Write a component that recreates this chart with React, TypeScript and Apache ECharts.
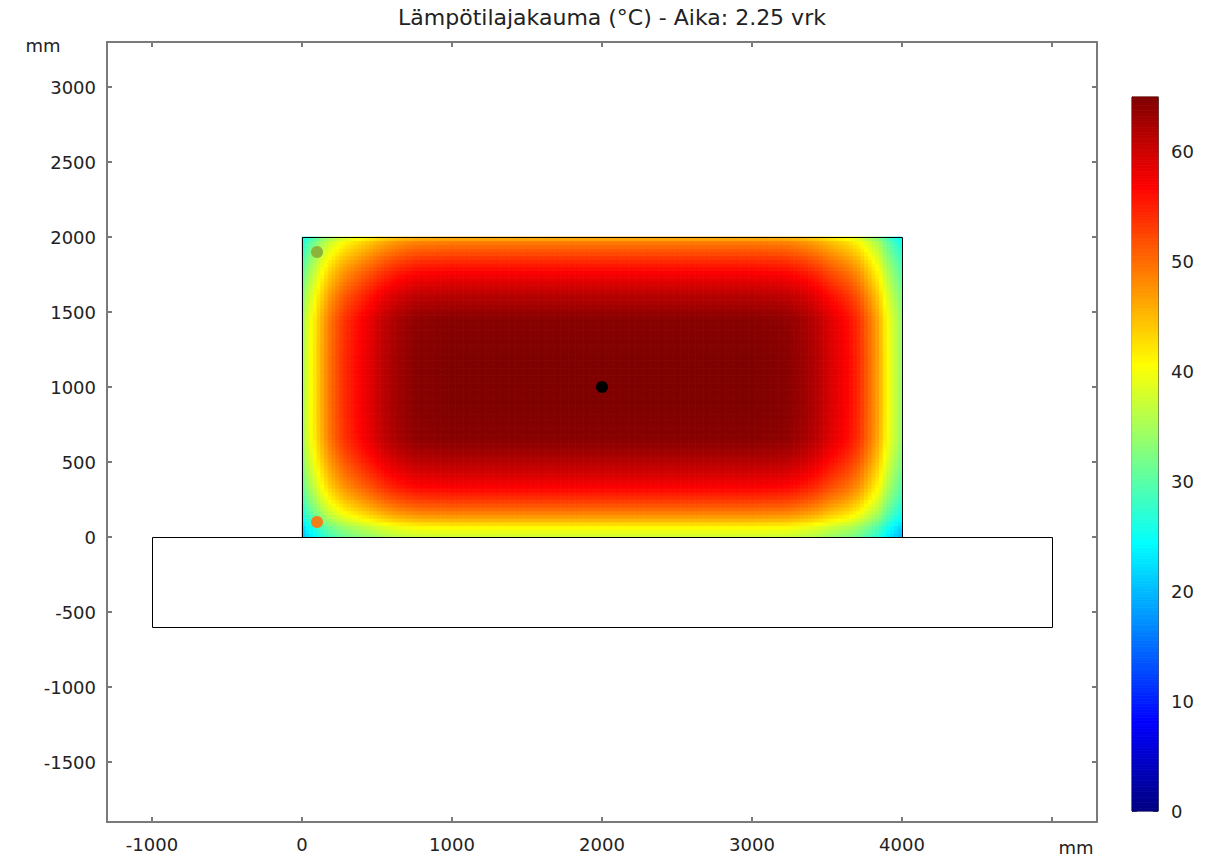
import React, { useEffect, useRef } from "react";
import * as echarts from "echarts";

const titleText = "Lämpötilajakauma (°C) - Aika: 2.25 vrk";
const unitLabel = "mm";

// Temperature (y = 1000 mm)
const profileXmm = [0, 15, 40, 73, 120, 193, 280, 387, 480, 560, 640, 770, 1000, 2000, 3000, 3230, 3360, 3440, 3520, 3633, 3720, 3787, 3850, 3900, 3960, 4000];
const profileXtemp = [33, 36, 39, 41, 45, 50, 54, 57, 59.5, 61.5, 63, 64.5, 65, 65, 65, 64.5, 63, 61.5, 59.5, 57, 54, 50, 46, 41, 37, 34];
// Temperature (x = 2000 mm)
const profileYmm = [0, 13, 67, 120, 180, 260, 333, 420, 500, 570, 660, 850, 1000, 1200, 1450, 1530, 1610, 1680, 1767, 1850, 1920, 1967, 2000];
const profileYtemp = [37, 38, 41, 46, 50, 54, 57, 59.5, 61.5, 63, 64.5, 65, 65, 65, 64.5, 63, 61.5, 59.5, 57, 54, 51, 49, 45];
const centreTemp = 65;

// Geometry [x0, y0, x1, y1] in mm
const slabRect = [0, 0, 4000, 2000];
const foundationRect = [-1000, -600, 5000, 0];

// Measurement points
const sensorX = [2000, 100, 100];
const sensorY = [1000, 1900, 100];
const sensorColors = ["#000000", "#8db33a", "#f07f1a"];

// Axes
const xTickValues = [-1000, 0, 1000, 2000, 3000, 4000, 5000];
const xLabelValues = [-1000, 0, 1000, 2000, 3000, 4000];
const yTickValues = [-1500, -1000, -500, 0, 500, 1000, 1500, 2000, 2500, 3000];
const colorTickValues = [0, 10, 20, 30, 40, 50, 60];
const colorMin = 0;
const colorMax = 65;
const jetColors = ["#000080", "#0000ff", "#0080ff", "#00ffff", "#80ff80", "#ffff00", "#ff8000", "#ff0000", "#800000"];

const FONT = "DejaVu Sans";

function interp(p: number, xs: number[], ys: number[]): number {
  if (p <= xs[0]) return ys[0];
  for (let i = 1; i < xs.length; i++) {
    if (p <= xs[i]) {
      const t = (p - xs[i - 1]) / (xs[i] - xs[i - 1]);
      return ys[i - 1] + t * (ys[i] - ys[i - 1]);
    }
  }
  return ys[ys.length - 1];
}

function buildCells() {
  const step = 25;
  const cells: number[][] = [];
  for (let x = slabRect[0]; x < slabRect[2]; x += step) {
    const tx = interp(x + step / 2, profileXmm, profileXtemp);
    for (let y = slabRect[1]; y < slabRect[3]; y += step) {
      const ty = interp(y + step / 2, profileYmm, profileYtemp);
      cells.push([x, y, x + step, y + step, (tx * ty) / centreTemp]);
    }
  }
  return cells;
}

function buildColorbar() {
  const step = 0.25;
  const out: number[][] = [];
  for (let v = colorMin; v < colorMax; v += step) {
    out.push([0, v, 1, v + step, v + step / 2]);
  }
  return out;
}

const rectItem = (params: any, api: any) => {
  const p0 = api.coord([api.value(0), api.value(1)]);
  const p1 = api.coord([api.value(2), api.value(3)]);
  const c = api.visual("color");
  return {
    type: "rect",
    shape: { x: p0[0], y: p1[1], width: p1[0] - p0[0], height: p0[1] - p1[1] },
    style: { fill: c, stroke: c, lineWidth: 0.8 },
    silent: true,
  };
};

const outlineItem = (params: any, api: any) => {
  const p0 = api.coord([api.value(0), api.value(1)]);
  const p1 = api.coord([api.value(2), api.value(3)]);
  return {
    type: "rect",
    shape: { x: Math.round(p0[0]) + 0.5, y: Math.round(p1[1]) + 0.5, width: Math.round(p1[0] - p0[0]), height: Math.round(p0[1] - p1[1]) },
    style: { fill: params.dataIndex === 1 ? "#ffffff" : "none", stroke: "#000000", lineWidth: 1 },
    silent: true,
  };
};

export default function App() {
  const ref = useRef<HTMLDivElement>(null);
  useEffect(() => {
    if (!ref.current) return;
    const chart = echarts.init(ref.current, null, { renderer: "svg" });
    const axisGrey = "#7a7a7a";
    const labelStyle = { color: "#222", fontFamily: FONT, fontSize: 18, formatter: (v: number) => String(v) };
    const mainX = (pos: "bottom" | "top", labels: boolean) => ({
      type: "value",
      gridIndex: 0,
      position: pos,
      min: -1300,
      max: 5300,
      axisLine: { show: true, onZero: false, lineStyle: { color: axisGrey, width: 2 } },
      axisTick: { show: true, inside: true, length: 5, lineStyle: { color: axisGrey, width: 2 }, customValues: xTickValues },
      axisLabel: { show: labels, margin: 13, ...labelStyle, customValues: xLabelValues },
      splitLine: { show: false },
    });
    const mainY = (pos: "left" | "right", labels: boolean) => ({
      type: "value",
      gridIndex: 0,
      position: pos,
      min: -1900,
      max: 3300,
      axisLine: { show: true, onZero: false, lineStyle: { color: axisGrey, width: 2 } },
      axisTick: { show: true, inside: true, length: 5, lineStyle: { color: axisGrey, width: 2 }, customValues: yTickValues },
      axisLabel: { show: labels, margin: 11, ...labelStyle, customValues: yTickValues },
      splitLine: { show: false },
    });
    const cbY = (pos: "left" | "right", labels: boolean) => ({
      type: "value",
      gridIndex: 1,
      position: pos,
      min: colorMin,
      max: colorMax,
      axisLine: { show: true, onZero: false, lineStyle: { color: "#555", width: 1 } },
      axisTick: { show: true, inside: true, length: 5, lineStyle: { color: "#111", width: 1.5 }, customValues: colorTickValues },
      axisLabel: { show: labels, margin: 13, ...labelStyle, customValues: colorTickValues },
      splitLine: { show: false },
    });
    chart.setOption({
      animation: false,
      backgroundColor: "#ffffff",
      grid: [
        { left: 107, top: 42, width: 990, height: 780, show: false },
        { left: 1132, top: 97, width: 26, height: 714, show: true, borderColor: "#555", borderWidth: 1 },
      ],
      xAxis: [
        mainX("bottom", true),
        mainX("top", false),
        { type: "value", gridIndex: 1, min: 0, max: 1, show: false },
      ],
      yAxis: [mainY("left", true), mainY("right", false), cbY("left", false), cbY("right", true)],
      visualMap: [
        { type: "continuous", show: false, seriesIndex: 0, dimension: 4, min: colorMin, max: colorMax, inRange: { color: jetColors } },
        { type: "continuous", show: false, seriesIndex: 3, dimension: 4, min: colorMin, max: colorMax, inRange: { color: jetColors } },
      ],
      series: [
        {
          type: "custom",
          xAxisIndex: 0,
          yAxisIndex: 0,
          renderItem: rectItem,
          encode: { x: [0, 2], y: [1, 3] },
          data: buildCells(),
          z: 1,
        },
        {
          type: "custom",
          xAxisIndex: 0,
          yAxisIndex: 0,
          renderItem: outlineItem,
          encode: { x: [0, 2], y: [1, 3] },
          data: [slabRect, foundationRect],
          z: 2,
        },
        {
          type: "scatter",
          xAxisIndex: 0,
          yAxisIndex: 0,
          symbol: "circle",
          symbolSize: 12,
          data: sensorX.map((x, i) => ({ value: [x, sensorY[i]], itemStyle: { color: sensorColors[i], opacity: 1 } })),
          z: 3,
          silent: true,
        },
        {
          type: "custom",
          xAxisIndex: 2,
          yAxisIndex: 2,
          renderItem: rectItem,
          encode: { x: [0, 2], y: [1, 3] },
          data: buildColorbar(),
          z: 1,
        },
      ],
      graphic: [
        { type: "text", x: 612, y: 17, style: { text: titleText, fill: "#222", font: `22px '${FONT}'`, textAlign: "center", textVerticalAlign: "middle" } },
        { type: "text", x: 43, y: 45, style: { text: unitLabel, fill: "#222", font: `18px '${FONT}'`, textAlign: "center", textVerticalAlign: "middle" } },
        { type: "text", x: 1076, y: 847, style: { text: unitLabel, fill: "#222", font: `18px '${FONT}'`, textAlign: "center", textVerticalAlign: "middle" } },
      ],
    });
    return () => chart.dispose();
  }, []);
  return <div ref={ref} style={{ position: "absolute", left: 0, top: 0, width: 1206, height: 856 }} />;
}
